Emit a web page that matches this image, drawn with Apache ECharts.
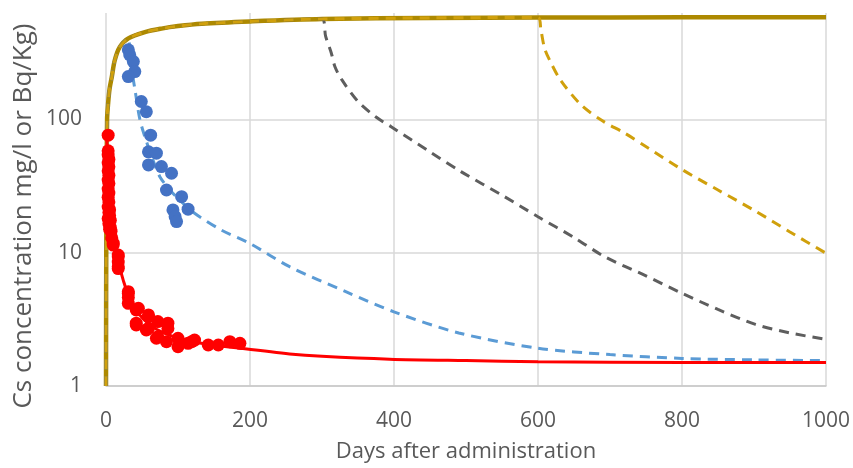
<!DOCTYPE html>
<html>
<head>
<meta charset="utf-8">
<script src="https://cdn.jsdelivr.net/npm/echarts@6/dist/echarts.min.js"></script>
<style>
html,body{margin:0;padding:0;background:#fff;}
#chart{width:853px;height:468px;}
</style>
</head>
<body>
<div id="chart"></div>
<script>
// ---- Data ----
const xTicks = [0, 200, 400, 600, 800, 1000];
const yTicks = [1, 10, 100];

// continuous administration (solid gold)
const contDays = [0, 0.5, 1.5, 3, 5, 8, 12, 19, 31, 54, 77, 100, 133, 200, 300, 450, 600, 800, 1000];
const contVals = [1, 20, 100, 133, 170, 207, 275, 348, 405, 451, 479, 500, 521, 542, 565, 576, 580, 582, 583];

// stop after 30 days (blue dashed)
const blueStop = 30;
const blueFitDays = [30, 35, 40, 47, 54, 65, 75, 90, 105, 117, 130, 160, 200, 255, 333, 400, 490, 600, 700, 800, 900, 1000];
const blueFitVals = [405, 250, 170, 100, 74, 50, 37, 29, 24, 20.9, 18.6, 14.8, 11.7, 7.85, 5.1, 3.6, 2.5, 1.92, 1.72, 1.61, 1.57, 1.55];

// stop after 300 days (gray dashed)
const grayStop = 300;
const grayFitDays = [300, 305, 313, 318, 327, 350, 375, 396, 450, 493, 550, 600, 650, 693, 750, 800, 850, 902, 950, 1000];
const grayFitVals = [565, 420, 313, 248, 200, 136, 104, 88, 57, 40.5, 27, 18.6, 13, 9.3, 6.7, 4.96, 3.75, 2.9, 2.5, 2.24];

// stop after 600 days (gold dashed)
const goldStop = 600;
const goldFitDays = [600, 604, 609, 616, 631, 660, 690, 720, 753, 800, 850, 902, 950, 1000];
const goldFitVals = [580, 470, 343, 279, 198, 128, 97, 79, 61, 42, 29.5, 20.5, 14.3, 9.9];

// red fitted line
const redFitDays = [1, 3, 5, 8, 12, 17, 24, 33, 45, 60, 80, 100, 130, 186, 255, 300, 394, 500, 600, 800, 1000];
const redFitVals = [70, 40, 20, 13.5, 10.5, 8.5, 6.2, 4.5, 3.5, 2.9, 2.5, 2.3, 2.1, 1.92, 1.74, 1.67, 1.59, 1.55, 1.52, 1.5, 1.5];

// red observations
const redDays = [3, 3, 3, 4, 3, 4, 3, 4, 3, 4, 3, 4, 3, 4, 3, 5, 4, 5, 3, 6, 4, 6, 5, 7, 8, 10, 10, 17, 17, 17, 17, 17, 31, 31, 31, 31, 42, 45, 42, 42, 56, 59, 59, 59, 70, 72, 72, 84, 86, 86, 100, 100, 114, 119, 123, 142, 156, 172, 186];
const redVals = [76, 58, 54, 50, 47, 44, 41, 38, 35, 33, 30, 28, 26, 24, 22, 21, 20, 19, 18, 17.5, 16.5, 15.5, 15, 14.5, 12.9, 11.8, 11.4, 9.6, 9.3, 8.5, 7.85, 7.6, 5.1, 4.95, 4.6, 4.17, 3.72, 3.83, 2.96, 2.87, 2.63, 3.41, 3.31, 2.71, 2.28, 3.04, 2.34, 2.15, 2.96, 2.7, 2.28, 1.97, 2.09, 2.15, 2.21, 2.03, 2.03, 2.15, 2.09];

// blue observations
const blueDays = [31, 33, 38, 40, 31, 49, 56, 62, 59, 70, 59, 77, 91, 84, 105, 114, 93, 96, 98];
const blueVals = [332, 304, 271, 228, 209, 136, 114, 76, 57, 55.7, 45.5, 44.2, 39.4, 29.5, 26.3, 21.2, 20.9, 18.6, 17.1];

// ---- Build series ----
function pairs(d, v) { return d.map((x, i) => [x, v[i]]); }
function withRise(stop, fd, fv) {
  const pre = [];
  contDays.forEach((d, i) => { if (d < stop) pre.push([d, contVals[i]]); });
  return pre.concat(pairs(fd, fv));
}

const chart = echarts.init(document.getElementById('chart'), null, {renderer: 'canvas'});
const font = '"Open Sans", "Liberation Sans", sans-serif';
const lineCommon = {type: 'line', showSymbol: false, symbol: 'none', smooth: 0.3, silent: true};

chart.setOption({
  animation: false,
  backgroundColor: '#ffffff',
  grid: {left: 106, right: 26, top: 13, bottom: 82, containLabel: false},
  xAxis: {
    type: 'value', min: 0, max: 1000, interval: 200,
    name: 'Days after administration', nameLocation: 'middle', nameGap: 55,
    nameTextStyle: {fontFamily: font, fontSize: 22, color: '#595959'},
    axisLine: {show: true, lineStyle: {color: '#C8C8C8', width: 1.5}},
    axisTick: {show: false},
    axisLabel: {fontFamily: font, fontSize: 21, color: '#595959', margin: 25,
      formatter: v => xTicks.includes(v) ? String(v) : ''},
    splitLine: {show: true, lineStyle: {color: '#D9D9D9', width: 1.5}}
  },
  yAxis: {
    type: 'log', logBase: 10, min: 1, max: 627,
    axisLine: {show: false},
    axisTick: {show: false},
    axisLabel: {fontFamily: font, fontSize: 21, color: '#595959', margin: 24, showMaxLabel: false,
      formatter: v => yTicks.some(t => Math.abs(t - v) < 1e-6) ? String(Math.round(v)) : ''},
    splitLine: {show: true, showMaxLine: false, lineStyle: {color: '#D9D9D9', width: 1.5}}
  },
  graphic: [{
    type: 'text', x: 24, y: 216, rotation: Math.PI / 2,
    style: {text: 'Cs concentration mg/l or Bq/Kg)', fontFamily: font, fontSize: 26, fill: '#595959',
      align: 'center', verticalAlign: 'middle'}
  }],
  series: [
    Object.assign({}, lineCommon, {name: 'continuous', z: 2, data: pairs(contDays, contVals),
      lineStyle: {color: '#AD8900', width: 4.5}}),
    Object.assign({}, lineCommon, {name: 'stop30', z: 3, data: withRise(blueStop, blueFitDays, blueFitVals),
      lineStyle: {color: '#5B9BD5', width: 3, type: [10, 7]}}),
    Object.assign({}, lineCommon, {name: 'stop300', z: 3, data: withRise(grayStop, grayFitDays, grayFitVals),
      lineStyle: {color: '#5E5E5E', width: 3, type: [10, 7]}}),
    Object.assign({}, lineCommon, {name: 'stop600', z: 4, data: withRise(goldStop, goldFitDays, goldFitVals),
      lineStyle: {color: '#D0A00C', width: 3, type: [10, 7]}}),
    Object.assign({}, lineCommon, {name: 'fit', z: 4, data: pairs(redFitDays, redFitVals),
      lineStyle: {color: '#FF0000', width: 3}}),
    {type: 'scatter', name: 'blue obs', z: 6, symbol: 'circle', symbolSize: 13, silent: true,
      data: pairs(blueDays, blueVals), itemStyle: {color: '#4472C4', opacity: 1}},
    {type: 'scatter', name: 'red obs', z: 6, symbol: 'circle', symbolSize: 13, silent: true,
      data: pairs(redDays, redVals), itemStyle: {color: '#FF0000', opacity: 1}}
  ]
});
</script>
</body>
</html>
